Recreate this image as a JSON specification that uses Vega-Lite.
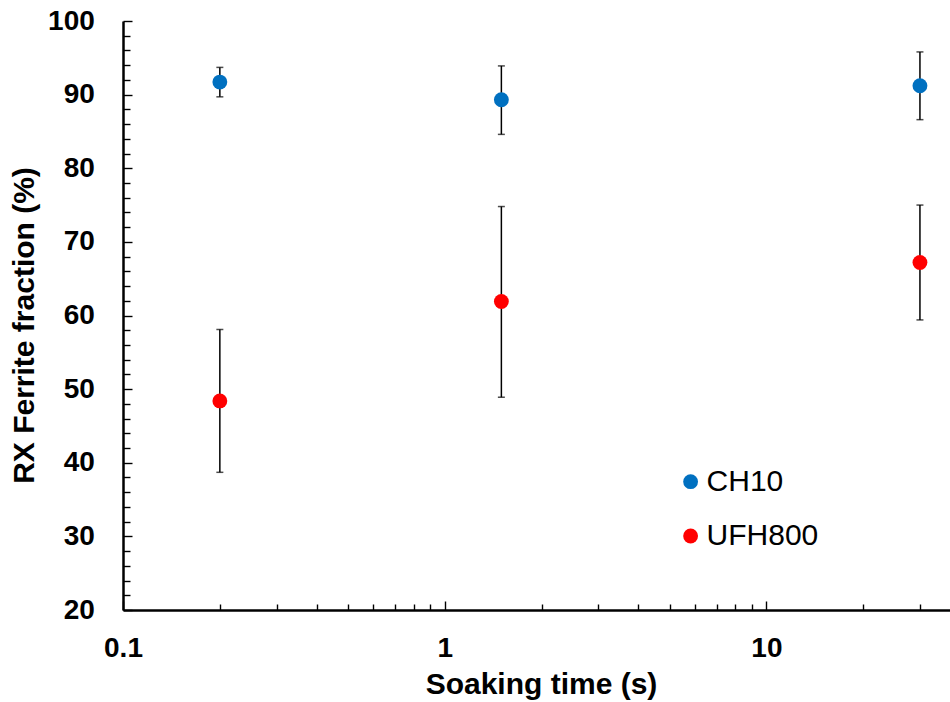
{
  "$schema": "https://vega.github.io/schema/vega-lite/v6.json",
  "width": 827,
  "height": 589,
  "autosize": "none",
  "padding": {"left": 123, "top": 21, "right": 0, "bottom": 92},
  "background": "white",
  "config": {"view": {"stroke": null}, "font": "Liberation Sans"},
  "data": {
    "values": [
      {"series": "CH10", "time": 0.2, "rx": 91.7, "lo": 89.7, "hi": 93.7},
      {"series": "CH10", "time": 1.5, "rx": 89.3, "lo": 84.6, "hi": 93.9},
      {"series": "CH10", "time": 30, "rx": 91.2, "lo": 86.6, "hi": 95.8},
      {"series": "UFH800", "time": 0.2, "rx": 48.4, "lo": 38.7, "hi": 58.1},
      {"series": "UFH800", "time": 1.5, "rx": 61.9, "lo": 48.9, "hi": 74.8},
      {"series": "UFH800", "time": 30, "rx": 67.2, "lo": 59.4, "hi": 75.0}
    ]
  },
  "encoding": {
    "x": {
      "field": "time",
      "type": "quantitative",
      "title": "Soaking time (s)",
      "scale": {"type": "log", "domain": [0.1, 37.2], "nice": false},
      "axis": {
        "values": [0.1, 0.2, 0.3, 0.4, 0.5, 0.6, 0.7, 0.8, 0.9, 1, 2, 3, 4, 5, 6, 7, 8, 9, 10, 20, 30],
        "labelExpr": "datum.value == 0.1 || datum.value == 1 || datum.value == 10 ? datum.label : ''",
        "tickSize": {"condition": {"test": "datum.value == 0.1 || datum.value == 1 || datum.value == 10", "value": -9}, "value": -6},
        "tickColor": "black",
        "tickWidth": 1.4,
        "domainColor": "black",
        "domainWidth": 2.5,
        "grid": false,
        "labelFlush": false,
        "labelOverlap": false,
        "labelFont": "Liberation Sans",
        "labelFontWeight": "bold",
        "labelFontSize": 28,
        "labelColor": "black",
        "labelPadding": 33.6,
        "titleFont": "Liberation Sans",
        "titleFontWeight": "bold",
        "titleFontSize": 30,
        "titleColor": "black",
        "titleX": 418,
        "titleY": 74,
        "titleBaseline": "middle"
      }
    }
  },
  "layer": [
    {
      "mark": {
        "type": "errorbar",
        "ticks": {"size": 7, "thickness": 1.5, "color": "black"},
        "rule": {"strokeWidth": 1.5, "color": "black"}
      },
      "encoding": {
        "y": {
          "field": "lo",
          "type": "quantitative",
          "title": "RX Ferrite fraction (%)",
          "scale": {"domain": [20, 100], "nice": false},
          "axis": {
            "values": [20, 22, 24, 26, 28, 30, 32, 34, 36, 38, 40, 42, 44, 46, 48, 50, 52, 54, 56, 58, 60, 62, 64, 66, 68, 70, 72, 74, 76, 78, 80, 82, 84, 86, 88, 90, 92, 94, 96, 98, 100],
            "labelExpr": "datum.value % 10 == 0 ? datum.label : ''",
            "tickSize": {"condition": {"test": "datum.value % 10 == 0", "value": -9}, "value": -7},
            "tickColor": "black",
            "tickWidth": 1.4,
            "domainColor": "black",
            "domainWidth": 2.5,
            "grid": false,
            "labelFlush": false,
            "labelOverlap": false,
            "labelFont": "Liberation Sans",
            "labelFontWeight": "bold",
            "labelFontSize": 28,
            "labelColor": "black",
            "labelPadding": 37.7,
            "titleFont": "Liberation Sans",
            "titleFontWeight": "bold",
            "titleFontSize": 30,
            "titleColor": "black",
            "titleX": -99,
            "titleY": 304,
            "titleBaseline": "middle"
          }
        },
        "y2": {"field": "hi"}
      }
    },
    {
      "mark": {"type": "circle", "size": 220, "opacity": 1},
      "encoding": {
        "y": {
          "field": "rx",
          "type": "quantitative",
          "title": "RX Ferrite fraction (%)",
          "scale": {"domain": [20, 100], "nice": false},
          "axis": {
            "values": [20, 22, 24, 26, 28, 30, 32, 34, 36, 38, 40, 42, 44, 46, 48, 50, 52, 54, 56, 58, 60, 62, 64, 66, 68, 70, 72, 74, 76, 78, 80, 82, 84, 86, 88, 90, 92, 94, 96, 98, 100],
            "labelExpr": "datum.value % 10 == 0 ? datum.label : ''",
            "tickSize": {"condition": {"test": "datum.value % 10 == 0", "value": -9}, "value": -7},
            "tickColor": "black",
            "tickWidth": 1.4,
            "domainColor": "black",
            "domainWidth": 2.5,
            "grid": false,
            "labelFlush": false,
            "labelOverlap": false,
            "labelFont": "Liberation Sans",
            "labelFontWeight": "bold",
            "labelFontSize": 28,
            "labelColor": "black",
            "labelPadding": 37.7,
            "titleFont": "Liberation Sans",
            "titleFontWeight": "bold",
            "titleFontSize": 30,
            "titleColor": "black",
            "titleX": -99,
            "titleY": 304,
            "titleBaseline": "middle"
          }
        },
        "color": {
          "field": "series",
          "type": "nominal",
          "scale": {"domain": ["CH10", "UFH800"], "range": ["#0070C0", "#FF0000"]},
          "legend": {
            "orient": "none",
            "legendX": 552.6,
            "legendY": 445.7,
            "title": null,
            "padding": 0,
            "labelFont": "Liberation Sans",
            "labelFontSize": 30,
            "labelColor": "black",
            "labelOffset": 1,
            "symbolType": "circle",
            "symbolSize": 220,
            "symbolStrokeWidth": 0,
            "rowPadding": 24.3
          }
        }
      }
    }
  ]
}
